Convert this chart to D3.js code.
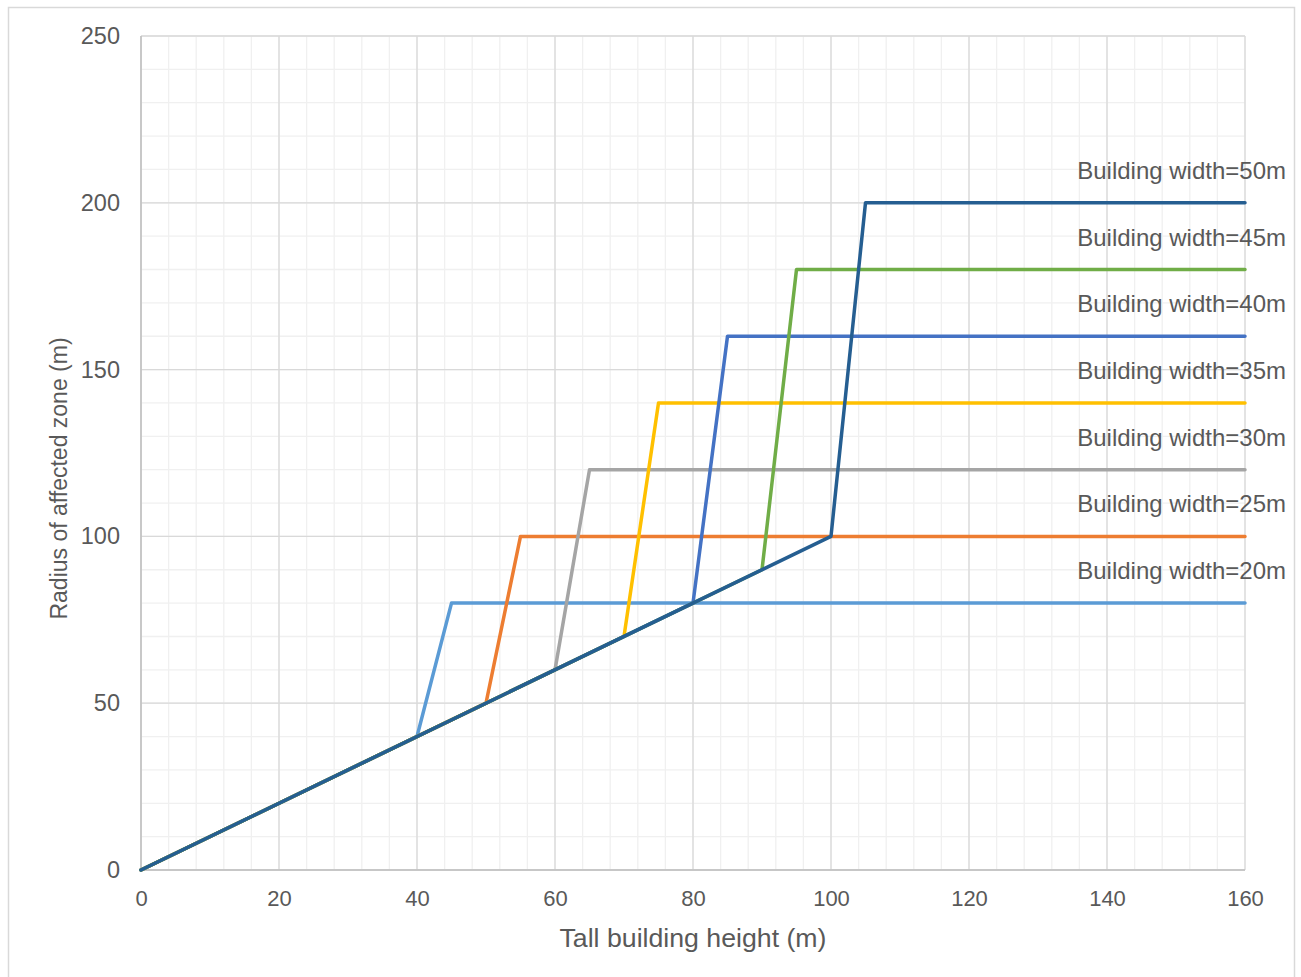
<!DOCTYPE html>
<html>
<head>
<meta charset="utf-8">
<script src="https://cdn.jsdelivr.net/npm/d3@7"></script>
<style>
  html, body { margin: 0; padding: 0; background: #ffffff; }
  svg { display: block; }
  text { font-family: Arial, "Liberation Sans", sans-serif; fill: #595959; }
</style>
</head>
<body>
<svg id="chart" width="1301" height="977"></svg>
<script>
// ---- Data ----
const seriesLabels = ["Building width=20m", "Building width=25m", "Building width=30m",
                      "Building width=35m", "Building width=40m", "Building width=45m", "Building width=50m"];
const seriesColors = ["#5B9BD5", "#ED7D31", "#A5A5A5", "#FFC000", "#4472C4", "#70AD47", "#255E91"];
const heights20 = [0, 40, 45, 160];   const radius20 = [0, 40, 80, 80];
const heights25 = [0, 50, 55, 160];   const radius25 = [0, 50, 100, 100];
const heights30 = [0, 60, 65, 160];   const radius30 = [0, 60, 120, 120];
const heights35 = [0, 70, 75, 160];   const radius35 = [0, 70, 140, 140];
const heights40 = [0, 80, 85, 160];   const radius40 = [0, 80, 160, 160];
const heights45 = [0, 90, 95, 160];   const radius45 = [0, 90, 180, 180];
const heights50 = [0, 100, 105, 160]; const radius50 = [0, 100, 200, 200];
const xTicks = [0, 20, 40, 60, 80, 100, 120, 140, 160];
const yTicks = [0, 50, 100, 150, 200, 250];
const xMinorTicks = d3.range(0, 161, 4);
const yMinorTicks = d3.range(0, 251, 10);
const xTitle = "Tall building height (m)";
const yTitle = "Radius of affected zone (m)";

const seriesHeights = [heights20, heights25, heights30, heights35, heights40, heights45, heights50];
const seriesRadius = [radius20, radius25, radius30, radius35, radius40, radius45, radius50];
const series = seriesLabels.map((label, i) => ({
  label, color: seriesColors[i],
  points: seriesHeights[i].map((h, j) => ({ x: h, y: seriesRadius[i][j] }))
}));

// ---- Layout ----
const svg = d3.select("#chart");
const x = d3.scaleLinear().domain([0, 160]).range([141, 1245]);
const y = d3.scaleLinear().domain([0, 250]).range([870, 36]);

// outer border
svg.append("rect").attr("x", 8.5).attr("y", 7.5).attr("width", 1286).attr("height", 975)
  .attr("fill", "#fff").attr("stroke", "#d9d9d9").attr("stroke-width", 1.5);

// minor gridlines
const g = svg.append("g");
g.selectAll(".vminor").data(xMinorTicks).enter().append("line")
  .attr("x1", d => x(d)).attr("x2", d => x(d)).attr("y1", y(0)).attr("y2", y(250))
  .attr("stroke", "#f0f0f0").attr("stroke-width", 1.3);
g.selectAll(".hminor").data(yMinorTicks).enter().append("line")
  .attr("x1", x(0)).attr("x2", x(160)).attr("y1", d => y(d)).attr("y2", d => y(d))
  .attr("stroke", "#f0f0f0").attr("stroke-width", 1.3);
// major gridlines
g.selectAll(".vmajor").data(xTicks).enter().append("line")
  .attr("x1", d => x(d)).attr("x2", d => x(d)).attr("y1", y(0)).attr("y2", y(250))
  .attr("stroke", "#d9d9d9").attr("stroke-width", 1.3);
g.selectAll(".hmajor").data(yTicks).enter().append("line")
  .attr("x1", x(0)).attr("x2", x(160)).attr("y1", d => y(d)).attr("y2", d => y(d))
  .attr("stroke", "#d9d9d9").attr("stroke-width", 1.3);
// axis lines
g.append("line").attr("x1", x(0)).attr("x2", x(0)).attr("y1", y(0)).attr("y2", y(250))
  .attr("stroke", "#bfbfbf").attr("stroke-width", 1.5);
g.append("line").attr("x1", x(0)).attr("x2", x(160)).attr("y1", y(0)).attr("y2", y(0))
  .attr("stroke", "#bfbfbf").attr("stroke-width", 1.5);

// axes (labels only) via d3 axes
const xAxis = svg.append("g").attr("transform", `translate(0,${y(0)})`)
  .call(d3.axisBottom(x).tickValues(xTicks).tickSize(0).tickPadding(20).tickFormat(d3.format("d")));
xAxis.select(".domain").remove();
xAxis.selectAll("text").style("font-size", "22px").attr("fill", "#595959")
  .style("font-family", "Arial, 'Liberation Sans', sans-serif");

const yAxis = svg.append("g").attr("transform", `translate(${x(0)},0)`)
  .call(d3.axisLeft(y).tickValues(yTicks).tickSize(0).tickPadding(21).tickFormat(d3.format("d")));
yAxis.select(".domain").remove();
yAxis.selectAll("text").style("font-size", "23.5px").attr("fill", "#595959")
  .style("font-family", "Arial, 'Liberation Sans', sans-serif");

// series lines
const line = d3.line().x(d => x(d.x)).y(d => y(d.y));
svg.append("g").selectAll("path").data(series).enter().append("path")
  .attr("d", d => line(d.points))
  .attr("fill", "none").attr("stroke", d => d.color).attr("stroke-width", 3.5)
  .attr("stroke-linejoin", "round").attr("stroke-linecap", "round");

// series labels (right aligned above the plateau)
svg.append("g").selectAll("text").data(series).enter().append("text")
  .attr("x", 1286)
  .attr("y", d => y(d.points[d.points.length - 1].y) - 24)
  .attr("text-anchor", "end")
  .style("font-size", "24px")
  .text(d => d.label);

// axis titles
svg.append("text").attr("x", (x(0) + x(160)) / 2).attr("y", 947)
  .attr("text-anchor", "middle").style("font-size", "26.7px").text(xTitle);
svg.append("text").attr("transform", `translate(67,${(340 + 617) / 2}) rotate(-90)`)
  .attr("text-anchor", "middle").style("font-size", "23px").text(yTitle);
</script>
</body>
</html>
